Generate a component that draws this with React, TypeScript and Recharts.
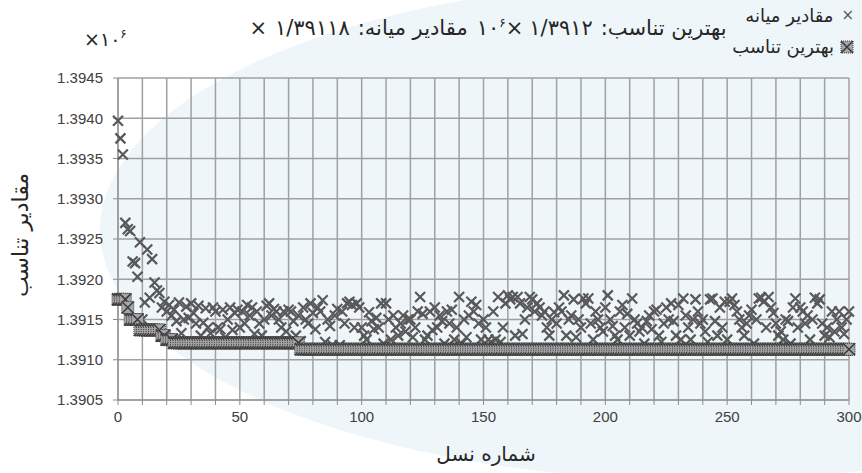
import React from "react";
import { ScatterChart, Scatter, XAxis, YAxis, CartesianGrid } from "recharts";

// median fitness per generation, gen 0..300 (x1e6)
const medianValues = [
  1.39397, 1.39375, 1.39355, 1.3927, 1.39262, 1.3926, 1.39222, 1.3922, 1.39203, 1.39246,
  1.3915, 1.39171, 1.39237, 1.39177, 1.39225, 1.39196, 1.39186, 1.39183, 1.39165, 1.39172,
  1.3916, 1.39168, 1.39155, 1.39162, 1.39148, 1.39171, 1.39133, 1.3915, 1.39166, 1.39152,
  1.3917, 1.39158, 1.39145, 1.39167, 1.3913, 1.39146, 1.39164, 1.3914, 1.39133, 1.39165,
  1.3916, 1.3914, 1.39138, 1.39162, 1.39128, 1.3915, 1.39165, 1.39137, 1.39158, 1.39162,
  1.3914, 1.3916, 1.39145, 1.39168, 1.39155, 1.39165, 1.39132, 1.3916, 1.39145, 1.3913,
  1.3915, 1.39167, 1.3917, 1.39155, 1.39163, 1.3916, 1.3915, 1.3914, 1.3916, 1.39135,
  1.39162, 1.3916, 1.39148, 1.3913, 1.39155, 1.39123, 1.39165, 1.3915, 1.39145, 1.3917,
  1.39158, 1.39138, 1.39165, 1.3916, 1.39174, 1.39122, 1.3915, 1.39142, 1.39118, 1.39155,
  1.39163, 1.39118, 1.3916, 1.39145, 1.3917, 1.39172, 1.39168, 1.3914, 1.3917, 1.39165,
  1.3914, 1.3913, 1.39125, 1.39159, 1.39148, 1.39138, 1.39152, 1.3914, 1.3917, 1.3912,
  1.3917, 1.3915, 1.39125, 1.39155, 1.3914, 1.3913, 1.39145, 1.39155, 1.39135, 1.3915,
  1.3915, 1.39128, 1.3914, 1.3916, 1.39178, 1.39157, 1.39125, 1.3913, 1.3916, 1.39137,
  1.39165, 1.3914, 1.39155, 1.39148, 1.3912, 1.3916, 1.39145, 1.39162, 1.39125, 1.3914,
  1.39178, 1.3912, 1.3915, 1.39128, 1.39155, 1.39172, 1.3916, 1.39168, 1.39145, 1.39125,
  1.3915, 1.3914, 1.39125, 1.39122, 1.3916, 1.39125, 1.39178, 1.39122, 1.3914, 1.3917,
  1.3918, 1.39175, 1.39178, 1.3913, 1.39178, 1.3917, 1.39132, 1.3915, 1.39165, 1.39178,
  1.39175, 1.3916, 1.3917, 1.39165, 1.39155, 1.3916, 1.3914, 1.3913, 1.3915, 1.39159,
  1.39145, 1.39165, 1.3916, 1.3918, 1.3913, 1.3915, 1.39155, 1.39175, 1.39128, 1.3915,
  1.3914, 1.39176, 1.3917, 1.39176, 1.39145, 1.39125, 1.3916, 1.3915, 1.3914, 1.39135,
  1.39165, 1.3918, 1.3915, 1.39142, 1.3913, 1.39125, 1.3916, 1.39168, 1.3914, 1.39157,
  1.3913, 1.39176, 1.3915, 1.39145, 1.39135, 1.3914, 1.3912, 1.39148, 1.39155, 1.39138,
  1.3916, 1.39162, 1.3913, 1.39122, 1.39145, 1.39165, 1.3915, 1.3917, 1.39148, 1.3913,
  1.39168, 1.39125, 1.39176, 1.39155, 1.3914, 1.39125, 1.3915, 1.39175, 1.3916, 1.39145,
  1.3915, 1.39135, 1.39122, 1.39175, 1.39176, 1.39148, 1.3913, 1.39165, 1.3914, 1.39172,
  1.39125, 1.39172, 1.39176, 1.39168, 1.3916, 1.3915, 1.3914, 1.3913, 1.39145, 1.39155,
  1.39162, 1.3912, 1.3915, 1.39176, 1.39177, 1.39172, 1.3914, 1.39178, 1.39165, 1.39158,
  1.39145, 1.3913, 1.39135, 1.39125, 1.3915, 1.39148, 1.3912, 1.39165, 1.39176, 1.3914,
  1.39165, 1.3916, 1.39145, 1.39155, 1.39125, 1.3915, 1.39177, 1.3917, 1.39175, 1.39145,
  1.3913, 1.3914, 1.39128, 1.3916, 1.39135, 1.3915, 1.3916, 1.3914, 1.39132, 1.3915,
  1.3916,
];

// best fitness is a staircase: generation where each level starts, and its value
const bestRunStart = [0, 4, 5, 9, 18, 20, 23, 75];
const bestRunValue = [1.39175, 1.39165, 1.3915, 1.39137, 1.3913, 1.39125, 1.39121, 1.39113];
const lastGeneration = 300;

const yTicks = [1.3905, 1.391, 1.3915, 1.392, 1.3925, 1.393, 1.3935, 1.394, 1.3945];
const xGrid = [0, 10, 20, 30, 40, 50, 60, 70, 80, 90, 100, 110, 120, 130, 140, 150, 160, 170, 180, 190, 200, 210, 220, 230, 240, 250, 260, 270, 280, 290, 300];

const medianData = medianValues.map((v, i) => ({ gen: i, fit: v }));
const bestData: { gen: number; fit: number }[] = [];
bestRunStart.forEach((start, k) => {
  const end = k + 1 < bestRunStart.length ? bestRunStart[k + 1] - 1 : lastGeneration;
  for (let g = start; g <= end; g++) bestData.push({ gen: g, fit: bestRunValue[k] });
});

const faFont = "'DejaVu Sans', sans-serif";
const tickFont = { fill: "#404040", fontSize: 15, fontFamily: "'Liberation Sans', sans-serif" };

function CrossMark(props: any) {
  const { cx, cy } = props;
  if (cx == null || cy == null) return null;
  const r = 5;
  return (
    <path
      d={`M${cx - r},${cy - r}L${cx + r},${cy + r}M${cx - r},${cy + r}L${cx + r},${cy - r}`}
      stroke="#595959"
      strokeWidth={2.2}
      fill="none"
    />
  );
}

function BoxMark(props: any) {
  const { cx, cy } = props;
  if (cx == null || cy == null) return null;
  const r = 6;
  return (
    <g>
      <rect x={cx - r} y={cy - r} width={2 * r} height={2 * r} fill="#a6a6a6" stroke="#3a3a3a" strokeWidth={1} strokeDasharray="1 1" />
      <path d={`M${cx - r},${cy - r}L${cx + r},${cy + r}M${cx - r},${cy + r}L${cx + r},${cy - r}`} stroke="#3a3a3a" strokeWidth={1.5} />
    </g>
  );
}

// a row of atomic pieces, always placed left to right in the order given
const row: React.CSSProperties = { display: "flex", flexDirection: "row", direction: "ltr", alignItems: "baseline" };
const bit = (text: string, gap = 0, extra: React.CSSProperties = {}) => (
  <span style={{ display: "inline-block", direction: "ltr", unicodeBidi: "isolate", whiteSpace: "pre", marginLeft: gap, ...extra }}>{text}</span>
);
const sup = (text: string) => bit(text, 0, { fontSize: 12, position: "relative", top: -8 });

export default function App() {
  return (
    <div dir="ltr" style={{ position: "absolute", left: 0, top: 0, width: 862, height: 473, background: "#ffffff", overflow: "hidden", direction: "ltr" }}>
      <svg width={862} height={473} style={{ position: "absolute", left: 0, top: 0 }}>
        <ellipse cx={700} cy={230} rx={600} ry={250} fill="#eef6fa" />
      </svg>

      <div style={{ position: "absolute", left: 0, top: 0 }}>
        <ScatterChart width={862} height={473} margin={{ top: 78, right: 13, bottom: 43, left: 48 }}>
          <CartesianGrid stroke="#a0a0a0" strokeWidth={1.5} />
          <XAxis
            type="number"
            dataKey="gen"
            domain={[0, 300]}
            ticks={xGrid}
            interval={0}
            height={30}
            tickFormatter={(v) => (v % 50 === 0 ? String(v) : "")}
            stroke="#8c8c8c"
            tick={tickFont}
            tickSize={5}
            tickMargin={6}
          />
          <YAxis
            type="number"
            dataKey="fit"
            domain={[1.3905, 1.3945]}
            ticks={yTicks}
            interval={0}
            width={70}
            tickFormatter={(v) => Number(v).toFixed(4)}
            stroke="#8c8c8c"
            tick={tickFont}
            tickSize={5}
            tickMargin={10}
          />
          <Scatter data={medianData} shape={<CrossMark />} isAnimationActive={false} />
          <Scatter data={bestData} shape={<BoxMark />} isAnimationActive={false} />
        </ScatterChart>
      </div>

      {/* title, written piece by piece in visual order (left to right) */}
      <div style={{ ...row, position: "absolute", left: 0, width: 976, top: 16, justifyContent: "center", fontFamily: faFont, fontSize: 21, color: "#262626" }}>
        {bit("×")}
        {bit("۱/۳۹۱۱۸", 8)}
        {bit(":", 8)}
        {bit("مقادیر میانه")}
        {bit("۱۰", 9)}
        {sup("۶")}
        {bit("×")}
        {bit("۱/۳۹۱۲", 6)}
        {bit(":", 8)}
        {bit("بهترین تناسب")}
      </div>

      <div style={{ ...row, position: "absolute", left: 84, top: 28, fontFamily: faFont, fontSize: 19, color: "#262626" }}>
        {bit("×")}
        {bit("۱۰")}
        {sup("۶")}
      </div>

      <div style={{ position: "absolute", left: 600, width: 254, top: 0, fontFamily: faFont, fontSize: 18, color: "#262626", lineHeight: "31px" }}>
        <div style={{ ...row, justifyContent: "flex-end", alignItems: "center" }}>
          {bit("مقادیر میانه")}
          {bit("×", 8, { color: "#595959", fontSize: 15 })}
        </div>
        <div style={{ ...row, justifyContent: "flex-end", alignItems: "center" }}>
          {bit("بهترین تناسب")}
          <svg width={14} height={14} style={{ marginLeft: 6 }}>
            <BoxMark cx={7} cy={7} />
          </svg>
        </div>
      </div>

      <div style={{ position: "absolute", left: 20, top: 235, transform: "translate(-50%, -50%) rotate(-90deg)", fontFamily: faFont, fontSize: 22, color: "#262626", whiteSpace: "nowrap" }}>
        مقادیر تناسب
      </div>

      <div style={{ position: "absolute", left: 486, top: 454, transform: "translate(-50%, -50%)", fontFamily: faFont, fontSize: 20, color: "#262626", whiteSpace: "nowrap" }}>
        شماره نسل
      </div>
    </div>
  );
}
